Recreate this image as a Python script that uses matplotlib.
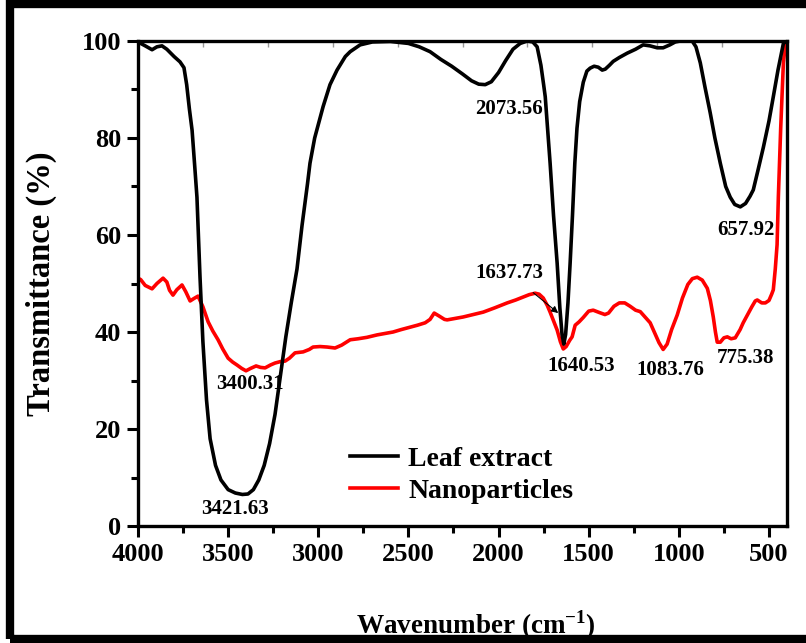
import numpy as np
import matplotlib
matplotlib.use("Agg")
import matplotlib.pyplot as plt
from matplotlib.patches import Rectangle

plt.rcParams['font.family'] = ['Liberation Serif', 'DejaVu Serif']
plt.rcParams['font.weight'] = 'bold'
plt.rcParams['mathtext.fontset'] = 'custom'
plt.rcParams['mathtext.rm'] = 'Liberation Serif:bold'
plt.rcParams['mathtext.bf'] = 'Liberation Serif:bold'

# Leaf extract (black)
leaf_wn = [4000, 3960, 3922, 3895, 3867, 3840, 3800, 3767, 3745, 3730, 3715, 3700, 3685, 3673,
           3656, 3640, 3620, 3600, 3570, 3540, 3500, 3460, 3421, 3390, 3360, 3330, 3300, 3270,
           3240, 3210, 3180, 3150, 3118, 3090, 3060, 3046, 3020, 2973, 2935, 2896, 2850, 2823,
           2768, 2700, 2600, 2500, 2440, 2380, 2320, 2260, 2200, 2150, 2110, 2074, 2040, 2000,
           1960, 1920, 1880, 1841, 1810, 1786, 1765, 1750, 1741, 1714, 1695, 1675, 1660, 1648,
           1638, 1628, 1615, 1603, 1590, 1577, 1565, 1550, 1530, 1510, 1492, 1470, 1447, 1425,
           1408, 1385, 1364, 1330, 1286, 1240, 1198, 1160, 1120, 1087, 1050, 1020, 992, 926,
           905, 881, 855, 826, 800, 770, 740, 715, 690, 659, 630, 605, 587, 560, 531, 500,
           476, 450, 420, 400]
leaf_t = [99.8, 99.0, 98.2, 98.8, 99.0, 98.3, 96.8, 95.7, 94.5, 91, 86, 81.6, 74, 67.8,
          51.3, 38, 26, 18, 12.5, 9.5, 7.5, 6.8, 6.5, 6.6, 7.5, 9.5, 12.5, 17,
          23, 31, 39, 46, 53, 62, 70.5, 74.8, 80, 86.5, 91, 94, 96.8, 97.8,
          99.2, 99.8, 99.9, 99.5, 98.8, 97.8, 96.2, 94.8, 93.2, 91.8, 91.1, 91.0, 91.6, 93.5,
          96.0, 98.3, 99.5, 100, 99.8, 98.8, 95, 91, 88.5, 74.8, 64, 54.2, 45, 39.5,
          37.5, 39.5, 46, 54.2, 64, 74.8, 82, 87.5, 91.5, 93.8, 94.4, 94.8, 94.6, 94.0,
          94.2, 95.0, 95.8, 96.6, 97.5, 98.3, 99.2, 99.0, 98.6, 98.6, 99.2, 99.8, 100, 100,
          98.8, 95.5, 90.5, 85.2, 80, 74.8, 70, 67.8, 66.3, 65.8, 66.5, 68, 69.3, 73.5, 78.1, 83.5,
          88.5, 94, 99.5, 100]

# Nanoparticles (red)
nano_wn = [4000, 3985, 3960, 3922, 3895, 3861, 3840, 3825, 3806, 3785, 3756, 3735, 3711, 3690,
           3667, 3640, 3611, 3585, 3556, 3530, 3500, 3475, 3451, 3425, 3401, 3375, 3345, 3320,
           3295, 3265, 3240, 3210, 3184, 3160, 3129, 3084, 3050, 3029, 2990, 2951, 2907, 2870,
           2823, 2780, 2730, 2674, 2630, 2585, 2540, 2491, 2450, 2407, 2380, 2357, 2330, 2300,
           2285, 2240, 2196, 2140, 2085, 2020, 1952, 1905, 1864, 1830, 1797, 1775, 1752, 1730,
           1714, 1695, 1675, 1657, 1641, 1625, 1605, 1592, 1575, 1553, 1530, 1500, 1475, 1440,
           1410, 1390, 1360, 1330, 1300, 1270, 1240, 1214, 1185, 1159, 1130, 1110, 1087, 1065,
           1040, 1009, 980, 950, 925, 898, 870, 842, 825, 809, 797, 787, 770, 750, 731, 710,
           687, 660, 643, 620, 595, 576, 565, 540, 520, 500, 485, 476, 465, 455, 448, 435,
           420, 410, 400]
nano_t = [51.1, 50.8, 49.6, 48.9, 50.0, 51.1, 50.3, 48.6, 47.6, 48.7, 49.7, 48.3, 46.4, 46.9,
          47.4, 45.2, 42.1, 40.2, 38.4, 36.5, 34.6, 33.8, 33.2, 32.5, 32.0, 32.5, 33.0, 32.7,
          32.6, 33.2, 33.6, 33.9, 34.0, 34.6, 35.7, 35.9, 36.4, 36.9, 37.0, 36.9, 36.7, 37.3,
          38.4, 38.6, 38.9, 39.4, 39.7, 40.0, 40.5, 41.0, 41.4, 41.9, 42.6, 43.9, 43.3, 42.6,
          42.5, 42.8, 43.1, 43.6, 44.1, 45.0, 46.0, 46.6, 47.2, 47.7, 48.0, 47.8, 47.0, 45.5,
          44.1, 42.3, 40.4, 38.0, 36.5, 37.0, 38.3, 39.0, 41.4, 42.1, 43.0, 44.3, 44.5, 44.0,
          43.6, 43.9, 45.3, 46.0, 46.0, 45.3, 44.5, 44.2, 43.0, 41.9, 39.5, 37.8, 36.4, 37.5,
          40.5, 43.5, 47, 49.8, 51.0, 51.3, 50.7, 49.0, 46.5, 43.1, 40.0, 37.9, 37.9, 38.8, 39.0, 38.6,
          38.8, 40.5, 41.9, 43.5, 45.2, 46.4, 46.6, 46.0, 46.0, 46.5, 47.8, 48.7, 53, 58, 67.8, 82,
          95.5, 99, 100]

# peak labels: text, x, y
peak_labels = [("2073.56", 1942, 86.0), ("3400.31", 3379, 29.3), ("3421.63", 3462, 3.5),
               ("1640.53", 1542, 33.0), ("1083.76", 1048, 32.2), ("775.38", 632, 34.6),
               ("657.92", 626, 61.0)]

fig = plt.figure(figsize=(8.06, 6.43), dpi=100)
ax = fig.add_axes([138/806, 1-526/643, (787-138)/806, (526-41)/643])

ax.plot(leaf_wn, leaf_t, color='black', lw=2.6, solid_joinstyle='round', label='Leaf extract', zorder=3)
ax.plot(nano_wn, nano_t, color='#ff0000', lw=2.6, solid_joinstyle='round', label='Nanoparticles', zorder=2)

ax.set_xlim(4000, 400)
ax.set_ylim(0, 100)
ax.set_xticks([4000, 3500, 3000, 2500, 2000, 1500, 1000, 500])
ax.set_xticks(np.arange(3750, 400, -500), minor=True)
ax.set_yticks([0, 20, 40, 60, 80, 100])
ax.set_yticks([10, 30, 50, 70, 90], minor=True)
ax.tick_params(axis='both', which='major', direction='out', length=8, width=2.2, labelsize=19, pad=4)
ax.tick_params(axis='both', which='minor', direction='out', length=5, width=2.2)
for lab in ax.get_xticklabels() + ax.get_yticklabels():
    lab.set_fontweight('bold')
for s in ax.spines.values():
    s.set_linewidth(2.4)

# faint top ticks
top = ax.secondary_xaxis('top')
top.set_xticks(np.linspace(4000, 400, 11))
top.tick_params(direction='in', length=4, width=1, color='#999999', labelsize=0, labeltop=False)
top.spines['top'].set_visible(False)

ax.set_ylabel('Transmittance (%)', fontsize=23.5, fontweight='bold', labelpad=18)
ax.set_xlabel(r'Wavenumber (cm$^{\mathbf{-1}}$)', fontsize=19.5, fontweight='bold', labelpad=22)
ax.xaxis.set_label_coords(0.52, -0.17)

for txt, x, y in peak_labels:
    ax.text(x, y, txt, fontsize=15, fontweight='bold', ha='center', va='center')

ax.annotate('1637.73', xy=(1669, 43.9), xytext=(1942, 52.2), fontsize=15, fontweight='bold',
            ha='center', va='center',
            arrowprops=dict(arrowstyle='-|>', color='black', lw=0.8, mutation_scale=10,
                            shrinkA=8, shrinkB=0))

ax.legend(loc='center left', bbox_to_anchor=(0.305, 0.105), frameon=False,
          handlelength=1.75, handletextpad=0.35, labelspacing=0.25, borderpad=0,
          prop={'weight': 'bold', 'size': 20})

fig.add_artist(Rectangle((10/806, 4/643), 1.0, (639-4)/643, transform=fig.transFigure,
                         fill=False, edgecolor='black', lw=6, clip_on=False))

fig.savefig('out.png', dpi=100)
